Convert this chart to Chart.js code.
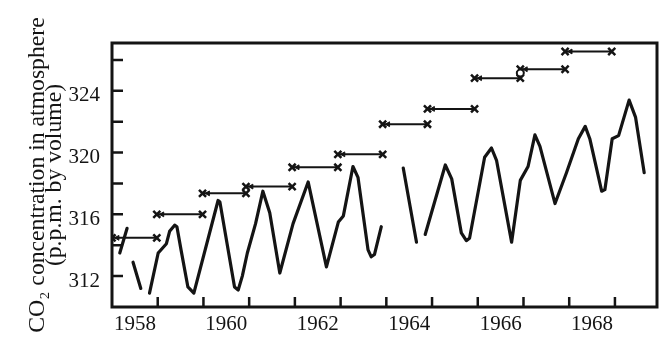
<!DOCTYPE html>
<html>
<head>
<meta charset="utf-8">
<script src="https://cdn.jsdelivr.net/npm/chart.js@4.4.0/dist/chart.umd.min.js"></script>
<style>
  html, body { margin: 0; padding: 0; background: #fff; }
</style>
</head>
<body>
<canvas id="co2Chart" width="672" height="354"></canvas>
<script>
// Monthly record (null value = break in the record)
var monthYears = [
    1958.17, 1958.33, 1958.40,
    1958.46, 1958.63, 1958.72,
    1958.82, 1959.01, 1959.19, 1959.26, 1959.37, 1959.42, 1959.51, 1959.66, 1959.79,
    1960.32, 1960.36, 1960.68, 1960.76, 1960.85, 1960.96, 1961.14, 1961.30, 1961.45,
    1961.67, 1961.96, 1962.29, 1962.69, 1962.95, 1963.06, 1963.27, 1963.38, 1963.60,
    1963.67, 1963.74, 1963.89, 1964.10,
    1964.37, 1964.66, 1964.75,
    1964.85, 1965.29, 1965.43, 1965.64, 1965.75, 1965.82, 1966.15, 1966.30, 1966.41,
    1966.74, 1966.93, 1967.10, 1967.25, 1967.36, 1967.69, 1967.94, 1968.20, 1968.35,
    1968.45, 1968.71, 1968.78, 1968.94, 1969.08, 1969.31, 1969.45, 1969.64
];
var monthValues = [
    313.5, 315.1, null,
    312.9, 311.2, null,
    310.9, 313.5, 314.1, 314.9, 315.3, 315.2, 313.7, 311.3, 310.9,
    316.9, 316.8, 311.3, 311.1, 312.0, 313.5, 315.4, 317.5, 316.1,
    312.2, 315.4, 318.1, 312.6, 315.5, 315.9, 319.1, 318.4, 313.7,
    313.25, 313.4, 315.2, null,
    319.0, 314.2, null,
    314.7, 319.2, 318.3, 314.8, 314.3, 314.45, 319.7, 320.3, 319.5,
    314.2, 318.2, 319.1, 321.15, 320.4, 316.7, 318.7, 320.9, 321.7,
    320.9, 317.5, 317.6, 320.9, 321.1, 323.4, 322.3, 318.7
];

// Yearly levels: each bar runs from start to end with a cross at both ends
var barStarts = [1958.0, 1958.98, 1959.98, 1960.93, 1961.94, 1962.94, 1963.92, 1964.9, 1965.93, 1966.93, 1967.91];
var barEnds   = [1958.98, 1959.98, 1960.93, 1961.94, 1962.94, 1963.92, 1964.9, 1965.93, 1966.93, 1967.91, 1968.93];
var barLevels = [314.48, 316.0, 317.36, 317.8, 319.05, 319.89, 321.84, 322.83, 324.82, 325.4, 326.55];

// open circle
var circleYears = [1966.93];
var circleValues = [325.15];

// axes
var xTickMarks = [1959, 1960, 1961, 1962, 1963, 1964, 1965, 1966, 1967, 1968, 1969];
var xLabelYears = [1958, 1960, 1962, 1964, 1966, 1968];
var yTickMarks = [312, 314, 316, 318, 320, 322, 324, 326];
var yLabelValues = [312, 316, 320, 324];

var ink = '#141414';
var serif = '"Liberation Serif", "DejaVu Serif", serif';

var lineData = monthYears.map(function (x, i) {
    return { x: x, y: monthValues[i] };
});

var barData = [];
var arrowData = [];
barStarts.forEach(function (s, i) {
    barData.push({ x: s, y: barLevels[i] });
    barData.push({ x: barEnds[i], y: barLevels[i] });
    barData.push({ x: barEnds[i], y: null });
    arrowData.push({ x: s + 0.12, y: barLevels[i] });
});

var circleData = circleYears.map(function (x, i) {
    return { x: x, y: circleValues[i] };
});

// frame round the plot and tick marks pointing inwards
var frameAndTicks = {
    id: 'frameAndTicks',
    afterDatasetsDraw: function (chart) {
        var ctx = chart.ctx;
        var a = chart.chartArea;
        var xs = chart.scales.x;
        var ys = chart.scales.y;
        ctx.save();
        ctx.strokeStyle = ink;
        ctx.lineWidth = 2.5;
        ctx.beginPath();
        xTickMarks.forEach(function (v) {
            var px = xs.getPixelForValue(v);
            ctx.moveTo(px, a.bottom);
            ctx.lineTo(px, a.bottom - 10);
        });
        yTickMarks.forEach(function (v) {
            var py = ys.getPixelForValue(v);
            ctx.moveTo(a.left, py);
            ctx.lineTo(a.left + 11, py);
        });
        ctx.stroke();
        ctx.lineWidth = 3;
        ctx.strokeRect(a.left, a.top, a.right - a.left, a.bottom - a.top);
        ctx.restore();
    }
};

var ctx = document.getElementById('co2Chart').getContext('2d');
var co2Chart = new Chart(ctx, {
    type: 'line',
    data: {
        datasets: [{
            label: 'circle',
            data: circleData,
            showLine: false,
            pointStyle: 'circle',
            pointRadius: 3.5,
            pointBorderWidth: 2,
            pointBorderColor: ink,
            pointBackgroundColor: '#fff',
            order: 0
        }, {
            label: 'arrows',
            data: arrowData,
            showLine: false,
            pointStyle: 'triangle',
            pointRotation: 270,
            pointRadius: 2.8,
            pointBorderWidth: 1,
            pointBorderColor: ink,
            pointBackgroundColor: ink,
            order: 1
        }, {
            label: 'yearly',
            data: barData,
            borderColor: ink,
            borderWidth: 2,
            spanGaps: false,
            pointStyle: 'crossRot',
            pointRadius: 5,
            pointBorderWidth: 2.5,
            pointBorderColor: ink,
            order: 1
        }, {
            label: 'monthly',
            data: lineData,
            borderColor: ink,
            borderWidth: 3.2,
            borderJoinStyle: 'round',
            borderCapStyle: 'round',
            spanGaps: false,
            pointRadius: 0,
            tension: 0,
            order: 2
        }]
    },
    options: {
        responsive: false,
        animation: false,
        devicePixelRatio: 1,
        layout: {
            padding: { left: 0, top: 43, right: 15, bottom: 0 }
        },
        plugins: {
            legend: { display: false },
            tooltip: { enabled: false }
        },
        scales: {
            x: {
                type: 'linear',
                min: 1958,
                max: 1969.92,
                afterBuildTicks: function (s) {
                    s.ticks = xLabelYears.map(function (v) { return { value: v }; });
                },
                afterFit: function (s) { s.height = 47; },
                grid: { display: false, drawTicks: false },
                border: { display: false },
                ticks: {
                    autoSkip: false,
                    maxRotation: 0,
                    labelOffset: 22.9,
                    padding: 5,
                    color: ink,
                    font: { family: serif, size: 21 },
                    callback: function (v) { return String(v); }
                }
            },
            y: {
                type: 'linear',
                min: 310,
                max: 327.1,
                afterBuildTicks: function (s) {
                    s.ticks = yLabelValues.map(function (v) { return { value: v }; });
                },
                afterFit: function (s) { s.width = 112; },
                grid: { display: false, drawTicks: false },
                border: { display: false },
                ticks: {
                    padding: 12,
                    labelOffset: 5,
                    color: ink,
                    font: { family: serif, size: 21 },
                    callback: function (v) { return String(v); }
                },
                title: {
                    display: true,
                    text: ['CO\u2082 concentration in atmosphere', '(p.p.m. by volume)'],
                    color: ink,
                    font: { family: serif, size: 23.7, lineHeight: 0.72 },
                    padding: { top: 29, bottom: 0 }
                }
            }
        }
    },
    plugins: [frameAndTicks]
});
</script>
</body>
</html>
